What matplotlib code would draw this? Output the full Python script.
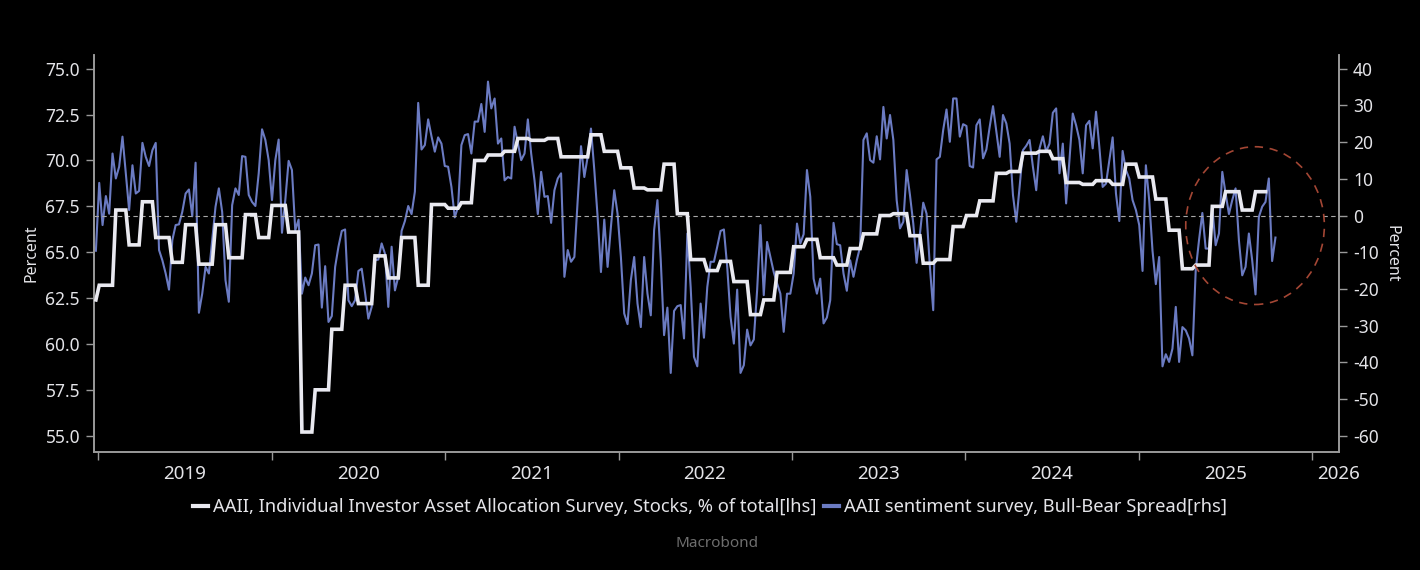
import matplotlib
matplotlib.use('Agg')
import matplotlib.pyplot as plt
import matplotlib.dates as mdates
from matplotlib.patches import Ellipse
import numpy as np
import pandas as pd

plt.rcParams['font.family'] = ['Noto Sans', 'DejaVu Sans']
plt.rcParams['axes.unicode_minus'] = False

# AAII asset allocation survey, stocks % of total (monthly, Dec 2018 - Sep 2025)
alloc_start = '2018-12-01'
alloc_stocks = [
    62.4,
    63.2, 67.3, 65.4, 67.75, 65.8, 64.45, 66.5, 64.35, 66.5, 64.7, 67.05, 65.8,   # 2019
    67.55, 66.1, 55.2, 57.5, 60.8, 63.2, 62.2, 64.8, 63.6, 65.8, 63.2, 67.6,      # 2020
    67.4, 67.7, 70.0, 70.3, 70.5, 71.2, 71.1, 71.2, 70.2, 70.2, 71.4, 70.5,       # 2021
    69.6, 68.5, 68.4, 69.8, 67.1, 64.6, 64.0, 64.5, 63.4, 61.6, 62.4, 63.9,       # 2022
    65.3, 65.7, 64.7, 64.3, 65.2, 66.0, 67.0, 67.1, 65.9, 64.4, 64.6, 66.4,       # 2023
    67.0, 67.8, 69.3, 69.4, 70.4, 70.5, 70.1, 68.8, 68.7, 68.9, 68.7, 69.8,       # 2024
    69.1, 67.9, 66.2, 64.1, 64.3, 67.5, 68.3, 67.3, 68.3,                         # 2025
]

# AAII sentiment survey, bull-bear spread (weekly, from 2018-12-27)
spread_start = '2018-12-27'
bull_bear = [
    -9.6, 8.9, -2.6, 5.3, 0.5, 16.9, 10.1, 13.3, 21.5, 11.5,
    1.5, 13.7, 6.0, 6.7, 19.8, 16.0, 13.5, 17.8, 19.8, -9.4,
    -12.2, -15.8, -20.2, -6.7, -2.6, -2.4, 1.0, 6.0, 7.1, -0.2,
    14.4, -26.5, -21.3, -14.0, -15.8, -6.7, 2.4, 7.4, 1.0, -17.6,
    -23.5, 2.8, 7.4, 5.6, 16.2, 16.0, 5.6, 3.7, 2.6, 11.5,
    23.5, 20.6, 15.1, 4.2, 15.1, 20.7, -4.7, 4.2, 14.9, 12.4,
    -4.0, -1.1, -21.3, -16.9, -19.0, -15.8, -8.1, -7.9, -25.1, -13.8,
    -29.0, -27.4, -14.0, -8.5, -4.2, -3.8, -23.1, -24.7, -23.1, -15.1,
    -14.5, -21.0, -28.1, -24.9, -12.2, -12.0, -7.6, -10.4, -24.9, -8.5,
    -20.4, -16.7, -4.2, -1.5, 2.6, 0.4, 6.5, 30.7, 18.0, 19.2,
    26.2, 21.6, 17.4, 21.3, 19.6, 13.5, 13.3, 7.8, -0.5, 2.4,
    19.2, 21.9, 22.2, 16.9, 25.6, 25.6, 30.4, 22.8, 36.5, 29.2,
    31.9, 19.6, 21.0, 9.6, 10.5, 10.1, 24.2, 19.6, 15.1, 16.9,
    26.2, 16.9, 9.6, 0.4, 11.9, 5.1, 5.3, -2.0, 6.9, 10.1,
    11.5, -16.7, -9.4, -12.6, -11.3, 4.2, 18.9, 10.5, 16.0, 23.7,
    12.4, -0.4, -15.4, -1.1, -14.0, -3.1, 6.9, 0.5, -11.3, -26.7,
    -29.6, -17.6, -11.3, -24.0, -30.4, -11.3, -21.3, -27.2, -4.0, 4.2,
    -12.2, -32.6, -25.1, -42.9, -26.0, -24.7, -24.4, -33.5, -4.9, -19.5,
    -38.5, -41.1, -24.0, -33.3, -19.5, -12.6, -12.6, -8.5, -4.2, -3.8,
    -14.0, -27.6, -34.9, -20.2, -42.9, -40.8, -31.1, -35.4, -33.8, -20.4,
    -2.6, -21.7, -7.2, -11.3, -15.4, -18.5, -21.3, -31.7, -21.3, -21.3,
    -15.8, -2.2, -7.6, -5.1, 12.4, 5.1, -17.2, -21.3, -17.2, -29.4,
    -27.8, -23.1, -2.0, -7.8, -8.1, -15.8, -20.5, -12.2, -16.7, -12.2,
    -8.5, 20.6, 22.4, 15.1, 14.4, 21.6, 15.3, 29.6, 21.0, 27.4,
    20.6, 4.2, -3.5, -1.7, 12.4, 5.6, -2.2, -12.9, -5.0, 3.5,
    0.5, -14.0, -25.8, 15.3, 16.0, 23.3, 28.9, 20.1, 31.9, 31.9,
    21.5, 24.9, 24.4, 13.5, 13.1, 24.6, 26.2, 15.6, 18.0, 24.2,
    29.8, 22.8, 16.0, 27.4, 25.1, 19.6, 5.6, -1.7, 7.8, 17.8,
    19.0, 20.6, 13.3, 6.9, 18.3, 21.6, 17.4, 19.6, 28.0, 29.2,
    11.5, 19.6, 3.3, 15.1, 27.8, 24.6, 20.6, 11.5, 24.6, 25.8,
    18.3, 28.3, 18.7, 7.8, 8.7, 15.1, 21.3, 6.0, -1.5, 17.6,
    12.4, 10.1, 4.2, 1.5, -2.6, -15.1, 13.7, 4.2, -9.6, -18.7,
    -11.3, -41.1, -37.8, -39.9, -36.3, -24.9, -39.9, -30.4, -31.3, -33.5,
    -38.1, -14.9, -6.7, 0.7, -9.0, -9.0, 1.9, -8.1, -4.9, 11.9,
    6.0, 0.4, 4.2, 7.4, -6.7, -16.3, -14.0, -4.9, -12.2, -21.5,
    -0.4, 2.4, 3.7, 10.1, -12.4, -6.0,
]

years = [2019, 2020, 2021, 2022, 2023, 2024, 2025, 2026]
left_ticks = [55.0, 57.5, 60.0, 62.5, 65.0, 67.5, 70.0, 72.5, 75.0]
right_ticks = [-60, -50, -40, -30, -20, -10, 0, 10, 20, 30, 40]

label1 = 'AAII, Individual Investor Asset Allocation Survey, Stocks, % of total[lhs]'
label2 = 'AAII sentiment survey, Bull-Bear Spread[rhs]'

# series
week_dates = pd.date_range(spread_start, periods=len(bull_bear), freq='7D')
spread = pd.Series(bull_bear, index=week_dates)
alloc = pd.Series(alloc_stocks, index=pd.date_range(alloc_start, periods=len(alloc_stocks), freq='MS'))
# monthly survey shown on the weekly calendar (held until the next release)
alloc_w = alloc.reindex(alloc.index.union(week_dates)).ffill().reindex(week_dates)
alloc_w = alloc_w[week_dates <= alloc.index[-1] + pd.offsets.MonthEnd(0)]

bg = '#000000'
fg = '#e4e4e8'
axis_col = '#9a9a9a'
white_col = '#e9e9f0'
blue_col = '#6b7bc2'

fig = plt.figure(figsize=(14.2, 5.7), dpi=100, facecolor=bg)
ax = fig.add_axes([0.0662, 0.207, 0.8768, 0.6965])
ax2 = ax.twinx()
ax.set_zorder(ax2.get_zorder() + 1)
ax.patch.set_visible(False)
ax2.patch.set_facecolor(bg)

ax2.plot(spread.index, spread.values, color=blue_col, lw=1.5, zorder=2)
ax.plot(alloc_w.index, alloc_w.values, color=white_col, lw=2.6, zorder=3,
        solid_joinstyle='miter')

# limits: right axis = 5 * (left - 67)
ylo, yhi = 54.11, 75.75
ax.set_ylim(ylo, yhi)
ax2.set_ylim(5 * (ylo - 67), 5 * (yhi - 67))
xlo = mdates.date2num(pd.Timestamp('2018-12-23'))
xhi = mdates.date2num(pd.Timestamp('2026-02-27'))
ax.set_xlim(xlo, xhi)

ax.axhline(67.0, color='#a8a8a8', lw=0.8, ls=(0, (4, 3)), zorder=1)

# highlight ring
ring = Ellipse((mdates.date2num(pd.Timestamp('2025-09-03')), 66.45), width=292, height=8.6,
               fill=False, ec='#a34634', lw=1.2, ls=(0, (5, 4)), zorder=4)
ax.add_patch(ring)

# x axis: year boundaries as ticks, labels centred in each year
ax.xaxis.set_minor_locator(mdates.YearLocator())
major = [mdates.date2num(pd.Timestamp(f'{y}-07-02')) for y in years[:-1]] + [xhi]
ax.set_xticks(major)
ax.set_xticklabels([str(y) for y in years])
ax.tick_params(axis='x', which='major', length=0, pad=9, labelsize=13.5, colors=fg)
ax.tick_params(axis='x', which='minor', length=6, width=1, color=axis_col)

ax.set_yticks(left_ticks)
ax.set_yticklabels([f'{v:.1f}' for v in left_ticks])
ax.tick_params(axis='y', length=6, width=1, color=axis_col, labelcolor=fg, labelsize=12.5, pad=4)
ax2.set_yticks(right_ticks)
ax2.set_yticklabels([str(v) for v in right_ticks])
ax2.tick_params(axis='y', length=6, width=1, color=axis_col, labelcolor=fg, labelsize=12.5, pad=4)

for a in (ax, ax2):
    a.spines['top'].set_visible(False)
    for s in ('left', 'right', 'bottom'):
        a.spines[s].set_color(axis_col)
        a.spines[s].set_linewidth(1.2)

ax.set_ylabel('Percent', color=fg, fontsize=11.5, labelpad=4)
ax2.set_ylabel('Percent', color=fg, fontsize=11.5, rotation=270, labelpad=15)

handles = [plt.Line2D([], [], color=white_col, lw=3.0), plt.Line2D([], [], color=blue_col, lw=3.0)]
leg = fig.legend(handles, [label1, label2], loc='center', bbox_to_anchor=(0.5, 0.11), ncol=2,
                 frameon=False, fontsize=13.2, handlelength=0.8, handletextpad=0.3, columnspacing=0.4)
for t in leg.get_texts():
    t.set_color(fg)

fig.text(0.505, 0.047, 'Macrobond', color='#6e6e6e', fontsize=11, ha='center', va='center')

fig.savefig('out.png', dpi=100, facecolor=bg)
